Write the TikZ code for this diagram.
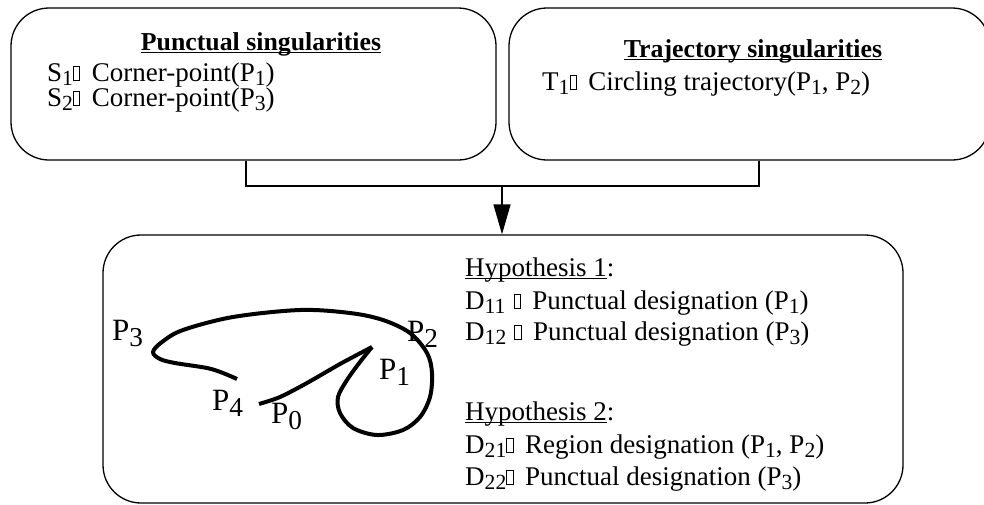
\documentclass[tikz,border=0pt]{standalone}
\usepackage{fontspec}
\setmainfont{Liberation Serif}
\usetikzlibrary{arrows.meta}
\newsavebox\myulbox
\newcommand\myul[1]{\sbox\myulbox{#1}\rlap{\rule[-3pt]{\wd\myulbox}{1.2pt}}\usebox\myulbox}
\newcommand\lo[1]{\raisebox{-0.18em}{\scalebox{0.8}{#1}}}
\newcommand\plo[1]{\raisebox{-0.2em}{\scalebox{0.88}{#1}}}
\newcommand\nb{\hbox{\vrule width0.7pt\vbox{\hrule height0.7pt\hbox to 5.5pt{\vrule height 14pt depth 0pt width 0pt\hfil}\hrule height0.7pt}\vrule width0.7pt}}
\newcommand\gap{\hspace{12pt}}
\begin{document}
\begin{tikzpicture}[x=1pt,y=-1pt,
  panel/.style={draw, line width=1.3pt, rounded corners=38pt, inner sep=0pt},
  txt/.style={inner sep=0pt, anchor=base west, font=\fontsize{27}{27}\selectfont},
  ttl/.style={inner sep=0pt, anchor=base, font=\fontsize{25.8}{26}\selectfont\bfseries},
  plab/.style={inner sep=0pt, anchor=base west, font=\fontsize{31}{31}\selectfont},
  conn/.style={line width=1.3pt},
  curve/.style={line width=4pt, line join=round, line cap=butt}]
\useasboundingbox (0,0) rectangle (984,504);
\fill[white] (0,0) rectangle (984,504);
% panels
\node[panel, minimum width=485pt, minimum height=152pt] (pbox) at (253.5,84) {};
\node[panel, minimum width=481pt, minimum height=152pt] (tbox) at (749.5,84) {};
\node[panel, minimum width=800pt, minimum height=268pt] (hbox) at (503,369) {};
% top texts
\node[ttl] (t1) at (261,50) {\myul{Punctual singularities}};
\node[txt] (s1) at (47,81) {S\lo{1}\nb\gap Corner-point(P\lo{1})};
\node[txt] (s2) at (47,106) {S\lo{2}\nb\gap Corner-point(P\lo{3})};
\node[ttl] (t2) at (753,57) {\myul{Trajectory singularities}};
\node[txt] (tr1) at (542,90) {T\lo{1}\nb\gap Circling trajectory(P\lo{1}, P\lo{2})};
% bottom texts
\node[txt] (h1) at (465,276) {\myul{Hypothesis 1}:};
\node[txt] (d11) at (465,309) {D\lo{11}\hspace{8pt}\nb\gap Punctual designation (P\lo{1})};
\node[txt] (d12) at (465,340) {D\lo{12}\hspace{8pt}\nb\gap Punctual designation (P\lo{3})};
\node[txt] (h2) at (465,420) {\myul{Hypothesis 2}:};
\node[txt] (d21) at (465,453) {D\lo{21}\nb\gap Region designation (P\lo{1}, P\lo{2})};
\node[txt] (d22) at (465,485) {D\lo{22}\nb\gap Punctual designation (P\lo{3})};
% connectors
\coordinate (j1) at (246,186);
\coordinate (j2) at (759,186);
\coordinate (jm) at (502,186);
\draw[conn] (pbox.south -| j1) -- (j1) -- (j2) -- (tbox.south -| j2);
\draw[conn, -{Triangle[length=30pt,width=17pt]}] (jm) -- (jm |- hbox.north);
% trajectory curve
\draw[curve] plot[smooth, tension=0.5] coordinates {(259,404) (280,397) (307,383) (340,364) (372,347)};
\draw[curve] plot[smooth, tension=0.55] coordinates {(372,347) (360,362) (347,380) (338,397) (340,413) (353,428) (377,435) (403,430) (420,417) (430,397) (432,373) (427,353) (410,333) (383,320) (350,313) (300,310) (233,317) (183,330) (162,342) (153,352) (160,359) (175,363) (207,368) (223,373) (237,379)};
% point labels
\node[plab] (p3) at (112,340) {P\plo{3}};
\node[plab] (p2) at (407,341) {P\plo{2}};
\node[plab] (p1) at (379,379) {P\plo{1}};
\node[plab] (p4) at (212,410) {P\plo{4}};
\node[plab] (p0) at (271,423) {P\plo{0}};
\end{tikzpicture}
\end{document}
